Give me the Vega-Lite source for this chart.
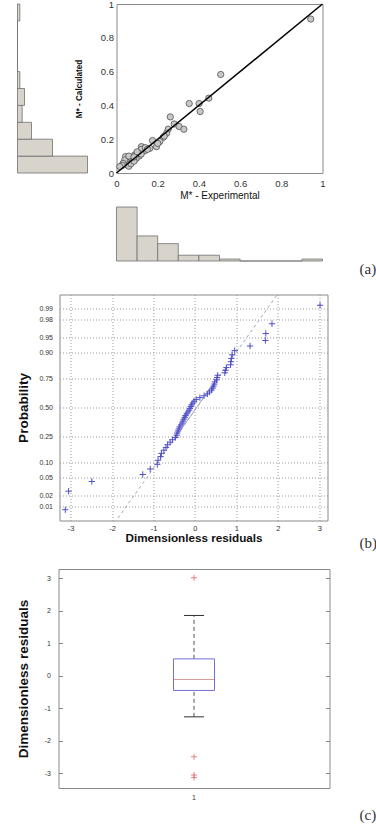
{
  "$schema": "https://vega.github.io/schema/vega-lite/v6.json",
  "background": "white",
  "padding": {"left": 15.5, "top": -2, "right": 0, "bottom": 0},
  "config": {
    "font": "Liberation Sans",
    "view": {"stroke": "#8a8a8a"},
    "axis": {"labelFont": "Liberation Sans", "titleFont": "Liberation Sans", "labelColor": "#333333", "titleColor": "#111111", "domain": false, "grid": false}
  },
  "datasets": {
    "points": [
      {"exp": 0.943, "calc": 0.911}, {"exp": 0.506, "calc": 0.583}, {"exp": 0.448, "calc": 0.443},
      {"exp": 0.401, "calc": 0.411}, {"exp": 0.353, "calc": 0.411}, {"exp": 0.406, "calc": 0.364},
      {"exp": 0.261, "calc": 0.332}, {"exp": 0.280, "calc": 0.290}, {"exp": 0.304, "calc": 0.275},
      {"exp": 0.327, "calc": 0.259}, {"exp": 0.251, "calc": 0.259}, {"exp": 0.243, "calc": 0.235},
      {"exp": 0.227, "calc": 0.211}, {"exp": 0.210, "calc": 0.186}, {"exp": 0.175, "calc": 0.192},
      {"exp": 0.194, "calc": 0.156}, {"exp": 0.200, "calc": 0.175}, {"exp": 0.162, "calc": 0.146},
      {"exp": 0.138, "calc": 0.132}, {"exp": 0.121, "calc": 0.156}, {"exp": 0.120, "calc": 0.140},
      {"exp": 0.105, "calc": 0.117}, {"exp": 0.110, "calc": 0.100}, {"exp": 0.098, "calc": 0.110},
      {"exp": 0.089, "calc": 0.107}, {"exp": 0.095, "calc": 0.085}, {"exp": 0.081, "calc": 0.081},
      {"exp": 0.075, "calc": 0.090}, {"exp": 0.073, "calc": 0.067}, {"exp": 0.068, "calc": 0.075},
      {"exp": 0.065, "calc": 0.087}, {"exp": 0.062, "calc": 0.060}, {"exp": 0.057, "calc": 0.073},
      {"exp": 0.055, "calc": 0.080}, {"exp": 0.053, "calc": 0.047}, {"exp": 0.050, "calc": 0.065},
      {"exp": 0.049, "calc": 0.057}, {"exp": 0.046, "calc": 0.072}, {"exp": 0.044, "calc": 0.097},
      {"exp": 0.040, "calc": 0.077}, {"exp": 0.036, "calc": 0.050}, {"exp": 0.032, "calc": 0.057},
      {"exp": 0.028, "calc": 0.045}, {"exp": 0.016, "calc": 0.038}, {"exp": 0.060, "calc": 0.040},
      {"exp": 0.070, "calc": 0.055}, {"exp": 0.085, "calc": 0.070}, {"exp": 0.140, "calc": 0.150},
      {"exp": 0.150, "calc": 0.140}, {"exp": 0.120, "calc": 0.112}, {"exp": 0.100, "calc": 0.125},
      {"exp": 0.232, "calc": 0.218}, {"exp": 0.060, "calc": 0.100}, {"exp": 0.085, "calc": 0.095}
    ],
    "diagonal": [{"exp": 0, "calc": 0}, {"exp": 1, "calc": 1}],
    "calcHist": [
      {"bin_start": 0.0, "bin_end": 0.1, "count": 30}, {"bin_start": 0.1, "bin_end": 0.2, "count": 15},
      {"bin_start": 0.2, "bin_end": 0.3, "count": 6}, {"bin_start": 0.3, "bin_end": 0.4, "count": 2},
      {"bin_start": 0.4, "bin_end": 0.5, "count": 3}, {"bin_start": 0.5, "bin_end": 0.6, "count": 1},
      {"bin_start": 0.6, "bin_end": 0.7, "count": 0}, {"bin_start": 0.7, "bin_end": 0.8, "count": 0},
      {"bin_start": 0.8, "bin_end": 0.9, "count": 0}, {"bin_start": 0.9, "bin_end": 1.0, "count": 1}
    ],
    "expHist": [
      {"bin_start": 0.0, "bin_end": 0.1, "count": 28}, {"bin_start": 0.1, "bin_end": 0.2, "count": 13},
      {"bin_start": 0.2, "bin_end": 0.3, "count": 9}, {"bin_start": 0.3, "bin_end": 0.4, "count": 3},
      {"bin_start": 0.4, "bin_end": 0.5, "count": 3}, {"bin_start": 0.5, "bin_end": 0.6, "count": 1},
      {"bin_start": 0.6, "bin_end": 0.7, "count": 0}, {"bin_start": 0.7, "bin_end": 0.8, "count": 0},
      {"bin_start": 0.8, "bin_end": 0.9, "count": 0}, {"bin_start": 0.9, "bin_end": 1.0, "count": 1}
    ],
    "residuals": [
      {"r": -3.13, "z": -2.394, "group": "1"}, {"r": -3.05, "z": -1.960, "group": "1"},
      {"r": -2.49, "z": -1.732, "group": "1"}, {"r": -1.26, "z": -1.569, "group": "1"},
      {"r": -1.08, "z": -1.440, "group": "1"}, {"r": -0.91, "z": -1.331, "group": "1"},
      {"r": -0.89, "z": -1.235, "group": "1"}, {"r": -0.83, "z": -1.150, "group": "1"},
      {"r": -0.81, "z": -1.073, "group": "1"}, {"r": -0.75, "z": -1.001, "group": "1"},
      {"r": -0.70, "z": -0.935, "group": "1"}, {"r": -0.66, "z": -0.872, "group": "1"},
      {"r": -0.60, "z": -0.812, "group": "1"}, {"r": -0.54, "z": -0.755, "group": "1"},
      {"r": -0.47, "z": -0.701, "group": "1"}, {"r": -0.44, "z": -0.648, "group": "1"},
      {"r": -0.43, "z": -0.598, "group": "1"}, {"r": -0.41, "z": -0.549, "group": "1"},
      {"r": -0.39, "z": -0.501, "group": "1"}, {"r": -0.37, "z": -0.454, "group": "1"},
      {"r": -0.34, "z": -0.408, "group": "1"}, {"r": -0.31, "z": -0.363, "group": "1"},
      {"r": -0.29, "z": -0.319, "group": "1"}, {"r": -0.27, "z": -0.275, "group": "1"},
      {"r": -0.25, "z": -0.232, "group": "1"}, {"r": -0.23, "z": -0.189, "group": "1"},
      {"r": -0.20, "z": -0.147, "group": "1"}, {"r": -0.17, "z": -0.105, "group": "1"},
      {"r": -0.14, "z": -0.063, "group": "1"}, {"r": -0.12, "z": -0.021, "group": "1"},
      {"r": -0.10, "z": 0.021, "group": "1"}, {"r": -0.08, "z": 0.063, "group": "1"},
      {"r": -0.05, "z": 0.105, "group": "1"}, {"r": -0.02, "z": 0.147, "group": "1"},
      {"r": 0.03, "z": 0.189, "group": "1"}, {"r": 0.12, "z": 0.232, "group": "1"},
      {"r": 0.22, "z": 0.275, "group": "1"}, {"r": 0.30, "z": 0.319, "group": "1"},
      {"r": 0.35, "z": 0.363, "group": "1"}, {"r": 0.40, "z": 0.408, "group": "1"},
      {"r": 0.43, "z": 0.454, "group": "1"}, {"r": 0.45, "z": 0.501, "group": "1"},
      {"r": 0.47, "z": 0.549, "group": "1"}, {"r": 0.48, "z": 0.598, "group": "1"},
      {"r": 0.52, "z": 0.648, "group": "1"}, {"r": 0.535, "z": 0.701, "group": "1"},
      {"r": 0.55, "z": 0.755, "group": "1"}, {"r": 0.72, "z": 0.812, "group": "1"},
      {"r": 0.74, "z": 0.872, "group": "1"}, {"r": 0.76, "z": 0.935, "group": "1"},
      {"r": 0.86, "z": 1.001, "group": "1"}, {"r": 0.87, "z": 1.073, "group": "1"},
      {"r": 0.88, "z": 1.150, "group": "1"}, {"r": 0.90, "z": 1.235, "group": "1"},
      {"r": 0.96, "z": 1.331, "group": "1"}, {"r": 1.33, "z": 1.440, "group": "1"},
      {"r": 1.70, "z": 1.569, "group": "1"}, {"r": 1.71, "z": 1.732, "group": "1"},
      {"r": 1.86, "z": 1.960, "group": "1"}, {"r": 3.02, "z": 2.394, "group": "1"}
    ],
    "refLine": [
      {"r": -1.94, "z": -2.7, "segment": "extension"}, {"r": 2.03, "z": 2.7, "segment": "extension"},
      {"r": -0.45, "z": -0.6745, "segment": "fit"}, {"r": 0.53, "z": 0.6745, "segment": "fit"}
    ],
    "none": []
  },
  "spacing": 15.5,
  "vconcat": [
    {
      "bounds": "flush",
      "spacing": 29,
      "hconcat": [
        {
          "width": 70,
          "height": 169,
          "view": {"stroke": null},
          "data": {"name": "calcHist"},
          "mark": {"type": "rect", "fill": "#d8d4cc", "stroke": "#707070", "strokeWidth": 0.8},
          "encoding": {
            "y": {"field": "bin_start", "type": "quantitative", "scale": {"domain": [0, 1], "nice": false, "zero": false}, "axis": null},
            "y2": {"field": "bin_end"},
            "x": {"field": "count", "type": "quantitative", "scale": {"domain": [0, 30], "nice": false}, "axis": null},
            "x2": {"datum": 0}
          }
        },
        {
          "bounds": "flush",
          "spacing": 34,
          "vconcat": [
            {
              "width": 206,
              "height": 169,
              "encoding": {
                "x": {"field": "exp", "type": "quantitative", "scale": {"domain": [0, 1], "nice": false, "zero": false},
                  "axis": {"values": [0, 0.2, 0.4, 0.6, 0.8, 1], "format": "~g", "title": "M* - Experimental", "titleFontSize": 10, "titleFontWeight": "normal", "labelFontSize": 9.5, "ticks": false, "labelPadding": 5, "titlePadding": 2.5, "labelFlush": false}},
                "y": {"field": "calc", "type": "quantitative", "scale": {"domain": [0, 1], "nice": false, "zero": false},
                  "axis": {"values": [0, 0.2, 0.4, 0.6, 0.8, 1], "format": "~g", "title": "M* - Calculated", "titleFontSize": 8.2, "titleFontWeight": "bold", "labelFontSize": 9.5, "ticks": false, "labelPadding": 3, "titlePadding": 16.8, "labelFlush": false}}
              },
              "layer": [
                {
                  "data": {"name": "points"},
                  "mark": {"type": "point", "shape": "circle", "filled": true, "size": 40, "fill": "#c8c8c8", "stroke": "#404040", "strokeWidth": 0.7, "opacity": 1}
                },
                {
                  "data": {"name": "diagonal"},
                  "mark": {"type": "line", "color": "#000000", "strokeWidth": 1.5}
                }
              ]
            },
            {
              "width": 206,
              "height": 54,
              "view": {"stroke": null},
              "data": {"name": "expHist"},
              "title": {"text": "(a)", "orient": "bottom", "anchor": "end", "frame": "group", "align": "left", "dx": 37, "offset": 1, "font": "Liberation Serif", "fontSize": 15, "fontWeight": "normal", "color": "#333333"},
              "mark": {"type": "rect", "fill": "#d8d4cc", "stroke": "#707070", "strokeWidth": 0.8},
              "encoding": {
                "x": {"field": "bin_start", "type": "quantitative", "scale": {"domain": [0, 1], "nice": false, "zero": false}, "axis": null},
                "x2": {"field": "bin_end"},
                "y": {"field": "count", "type": "quantitative", "scale": {"domain": [0, 28], "nice": false}, "axis": null},
                "y2": {"datum": 0}
              }
            }
          ]
        }
      ]
    },
    {
      "bounds": "flush",
      "spacing": 41,
      "hconcat": [
        {
          "width": 1,
          "height": 1,
          "view": {"stroke": null},
          "data": {"name": "none"},
          "mark": "point",
          "encoding": {}
        },
        {
          "width": 268,
          "height": 226,
          "title": {"text": "(b)", "orient": "bottom", "anchor": "end", "frame": "group", "align": "left", "dx": 32, "offset": -8, "font": "Liberation Serif", "fontSize": 15, "fontWeight": "normal", "color": "#333333"},
          "encoding": {
            "x": {"field": "r", "type": "quantitative", "scale": {"domain": [-3.27, 3.2], "nice": false, "zero": false},
              "axis": {"values": [-3, -2, -1, 0, 1, 2, 3], "labelExpr": "'' + datum.value", "title": "Dimensionless residuals", "titleFontSize": 11.7, "titleFontWeight": "bold", "labelFontSize": 7.5, "grid": true, "gridDash": [1, 2], "gridColor": "#9a9a9a", "ticks": false, "labelPadding": 3.5, "titlePadding": 1, "labelFlush": false}},
            "y": {"field": "z", "type": "quantitative", "scale": {"domain": [-2.646, 2.646], "nice": false, "zero": false},
              "axis": {"values": [-2.3263, -2.0537, -1.6449, -1.2816, -0.6745, 0, 0.6745, 1.2816, 1.6449, 2.0537, 2.3263], "labelExpr": "format(cumulativeNormal(datum.value), '.2f')", "title": "Probability", "titleFontSize": 13.5, "titleFontWeight": "bold", "labelFontSize": 7, "grid": true, "gridDash": [1, 2], "gridColor": "#9a9a9a", "ticks": false, "labelPadding": 7, "titlePadding": 8.4, "labelFlush": false}}
          },
          "layer": [
            {
              "data": {"name": "refLine"},
              "transform": [{"filter": "datum.segment === 'extension'"}],
              "mark": {"type": "line", "color": "#a4a4bc", "strokeDash": [3, 3], "strokeWidth": 1, "clip": true}
            },
            {
              "data": {"name": "refLine"},
              "transform": [{"filter": "datum.segment === 'fit'"}],
              "mark": {"type": "line", "color": "#a4a4bc", "strokeWidth": 1, "clip": true}
            },
            {
              "data": {"name": "residuals"},
              "mark": {"type": "point", "shape": "M-1,0H1M0,-1V1", "filled": false, "stroke": "#5050c8", "size": 40, "strokeWidth": 1, "opacity": 1}
            }
          ]
        }
      ]
    },
    {
      "bounds": "flush",
      "spacing": 40,
      "hconcat": [
        {
          "width": 1,
          "height": 1,
          "view": {"stroke": null},
          "data": {"name": "none"},
          "mark": "point",
          "encoding": {}
        },
        {
          "width": 271,
          "height": 219,
          "data": {"name": "residuals"},
          "title": {"text": "(c)", "orient": "bottom", "anchor": "end", "frame": "group", "align": "left", "dx": 30, "offset": 8, "font": "Liberation Serif", "fontSize": 15, "fontWeight": "normal", "color": "#333333"},
          "layer": [
            {
              "mark": {
                "type": "boxplot",
                "extent": 1.5,
                "size": 41,
                "box": {"fill": "white", "stroke": "#7070d8", "strokeWidth": 1},
                "median": {"color": "#c87070", "strokeWidth": 1},
                "rule": {"color": "#505050", "strokeDash": [4, 3], "strokeWidth": 1},
                "ticks": {"color": "#303030", "size": 20, "strokeWidth": 1},
                "outliers": {"shape": "M-1,0H1M0,-1V1", "filled": false, "color": "#e05050", "size": 36, "strokeWidth": 1}
              },
              "encoding": {
                "x": {"field": "group", "type": "nominal", "axis": {"title": null, "labelAngle": 0, "labelFontSize": 7, "ticks": false, "labelPadding": 5}},
                "y": {"field": "r", "type": "quantitative", "scale": {"domain": [-3.45, 3.29], "nice": false, "zero": false},
                  "axis": {"values": [-3, -2, -1, 0, 1, 2, 3], "labelExpr": "'' + datum.value", "title": "Dimensionless residuals", "titleFontSize": 13.5, "titleFontWeight": "bold", "labelFontSize": 7, "tickSize": -4, "tickColor": "#888888", "labelPadding": 12, "titlePadding": 13.8, "labelFlush": false}}
              }
            },
            {
              "mark": {"type": "tick", "opacity": 0},
              "encoding": {
                "y": {"field": "r", "type": "quantitative", "axis": {"orient": "right", "values": [-3, -2, -1, 0, 1, 2, 3], "labels": false, "title": null, "tickSize": -4, "tickColor": "#888888"}}
              }
            }
          ],
          "resolve": {"axis": {"y": "independent"}}
        }
      ]
    }
  ]
}
